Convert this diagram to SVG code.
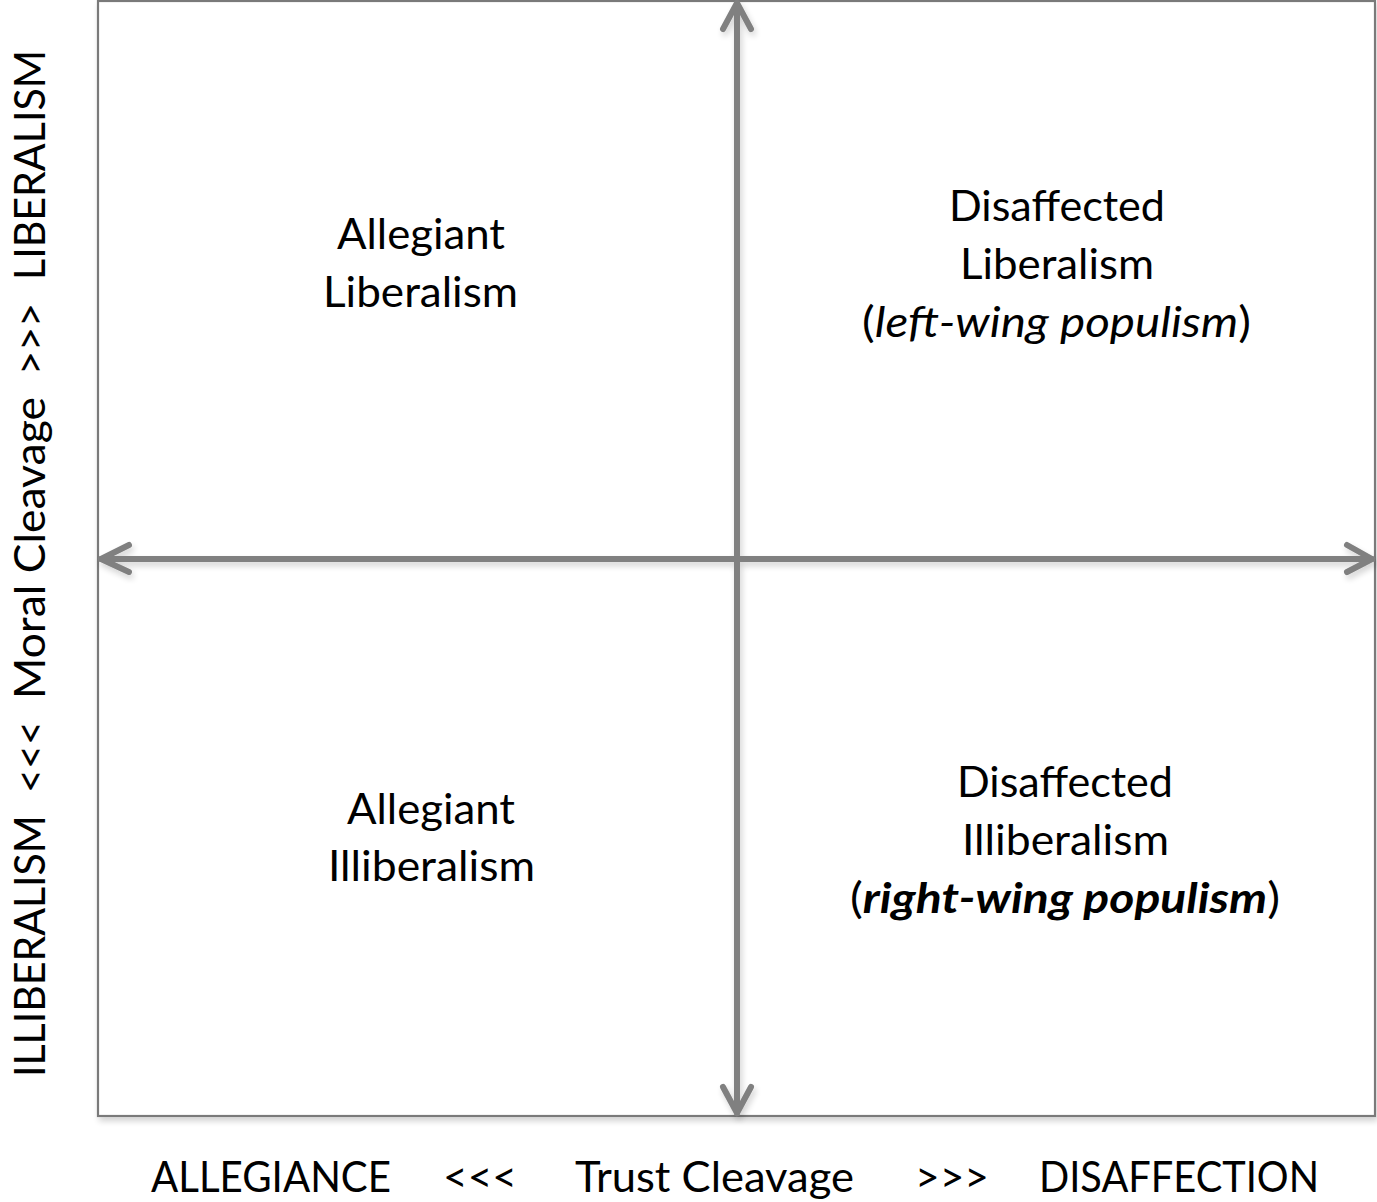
<svg xmlns="http://www.w3.org/2000/svg" width="1377" height="1202" viewBox="0 0 1377 1202">
<style>
text { font-family: Lato, "Open Sans", "Liberation Sans", sans-serif; font-size: 42px; fill: #000; }
.ax { stroke: #808080; stroke-width: 6; fill: none; stroke-linecap: round; stroke-linejoin: round; }
.box { fill: #fff; stroke: #7a7a7a; stroke-width: 2.2; }
</style>
<defs>
<filter id="sh" x="-5%" y="-5%" width="110%" height="110%">
<feGaussianBlur in="SourceAlpha" stdDeviation="3"/>
<feOffset dx="2" dy="4" result="b"/>
<feComponentTransfer><feFuncA type="linear" slope="0.18"/></feComponentTransfer>
<feMerge><feMergeNode/><feMergeNode in="SourceGraphic"/></feMerge>
</filter>
</defs>
<rect width="1377" height="1202" fill="#fff"/>
<g id="frame"><rect class="box" x="98" y="1" width="1277" height="1115" filter="url(#sh)"/></g>
<g id="connectors" filter="url(#sh)">
<line class="ax" x1="737" y1="3" x2="737" y2="1113"/>
<polyline class="ax" points="723,29 737,3 751,29"/>
<polyline class="ax" points="723,1087 737,1113 751,1087"/>
<line class="ax" x1="101" y1="559" x2="1372" y2="559"/>
<polyline class="ax" points="129,545 101,559 129,572"/>
<polyline class="ax" points="1347,545 1372,559 1347,572"/>
</g>
<g id="q-allegiant-liberalism">
<text x="337" y="249" textLength="168" lengthAdjust="spacingAndGlyphs">Allegiant</text>
<text x="323" y="307" textLength="195" lengthAdjust="spacingAndGlyphs">Liberalism</text>
</g>
<g id="q-disaffected-liberalism">
<text x="949" y="221" textLength="216" lengthAdjust="spacingAndGlyphs">Disaffected</text>
<text x="960" y="279" textLength="194" lengthAdjust="spacingAndGlyphs">Liberalism</text>
<text x="862" y="337" textLength="389" lengthAdjust="spacingAndGlyphs">(<tspan font-style="italic">left-wing populism</tspan>)</text>
</g>
<g id="q-allegiant-illiberalism">
<text x="347" y="824" textLength="168" lengthAdjust="spacingAndGlyphs">Allegiant</text>
<text x="328" y="881" textLength="207" lengthAdjust="spacingAndGlyphs">Illiberalism</text>
</g>
<g id="q-disaffected-illiberalism">
<text x="957" y="797" textLength="216" lengthAdjust="spacingAndGlyphs">Disaffected</text>
<text x="962" y="855" textLength="207" lengthAdjust="spacingAndGlyphs">Illiberalism</text>
<text x="850" y="913" textLength="430" lengthAdjust="spacingAndGlyphs">(<tspan font-style="italic" font-weight="bold">right-wing populism</tspan>)</text>
</g>
<g id="x-axis-label">
<text x="151" y="1192" textLength="240" lengthAdjust="spacingAndGlyphs">ALLEGIANCE</text>
<text x="443" y="1192" textLength="74" lengthAdjust="spacingAndGlyphs">&lt;&lt;&lt;</text>
<text x="575" y="1192" textLength="279" lengthAdjust="spacingAndGlyphs">Trust Cleavage</text>
<text x="915" y="1192" textLength="74" lengthAdjust="spacingAndGlyphs">&gt;&gt;&gt;</text>
<text x="1039" y="1192" textLength="280" lengthAdjust="spacingAndGlyphs">DISAFFECTION</text>
</g>
<g id="y-axis-label" transform="rotate(-90)">
<text x="-1077" y="45" textLength="262" lengthAdjust="spacingAndGlyphs">ILLIBERALISM</text>
<text x="-793" y="45" textLength="72" lengthAdjust="spacingAndGlyphs">&lt;&lt;&lt;</text>
<text x="-699" y="45" textLength="302" lengthAdjust="spacingAndGlyphs">Moral Cleavage</text>
<text x="-375" y="45" textLength="72" lengthAdjust="spacingAndGlyphs">&gt;&gt;&gt;</text>
<text x="-280" y="45" textLength="230" lengthAdjust="spacingAndGlyphs">LIBERALISM</text>
</g>
</svg>
